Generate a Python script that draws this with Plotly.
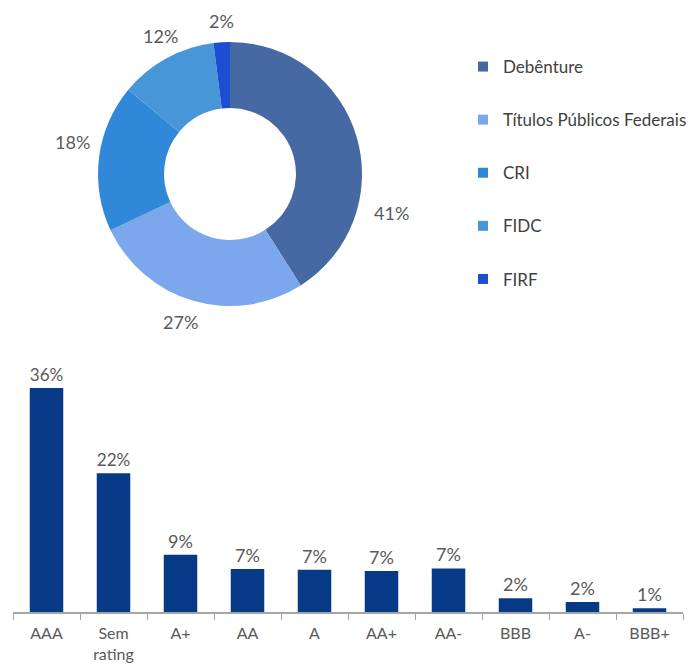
import plotly.graph_objects as go

# Donut data
asset_names = ["Debênture", "Títulos Públicos Federais", "CRI", "FIDC", "FIRF"]
asset_values = [41, 27, 18, 12, 2]
asset_text = ["41%", "27%", "18%", "12%", "2%"]
asset_colors = ["#4769A3", "#7DA7EC", "#3288D8", "#4796D8", "#1E4ED0"]

# Bar data
ratings = ["AAA", "Sem<br>rating", "A+", "AA", "A", "AA+", "AA-", "BBB", "A-", "BBB+"]
rating_values = [36.0, 22.3, 9.2, 6.9, 6.8, 6.6, 7.0, 2.2, 1.6, 0.6]
rating_text = ["36%", "22%", "9%", "7%", "7%", "7%", "7%", "2%", "2%", "1%"]

# layout: pixel positions of the donut percentage labels (as placed in the original)
pie_label_px = [(391, 213), (180, 322), (72, 142), (160, 36), (222, 21)]

FONT = "Lato"
TXT = "#5A5A5A"
W, H = 699, 666

fig = go.Figure()

cx, cy, r = 230, 174, 132
fig.add_trace(go.Pie(
    labels=asset_names, values=asset_values, text=asset_text,
    textinfo="none",
    marker=dict(colors=asset_colors, line=dict(width=0)),
    hole=0.5, sort=False, direction="clockwise", rotation=0,
    domain=dict(x=[(cx - r) / W, (cx + r) / W],
                y=[(H - cy - r) / H, (H - cy + r) / H]),
    showlegend=False, hoverinfo="label+text",
))

for t, (px, py) in zip(asset_text, pie_label_px):
    fig.add_annotation(
        text=t, x=px / W, y=1 - py / H, xref="paper", yref="paper",
        xanchor="center", yanchor="middle", showarrow=False,
        font=dict(family=FONT, size=18, color=TXT),
    )

# legend entries (one group each so spacing can match)
for i, (n, c) in enumerate(zip(asset_names, asset_colors)):
    fig.add_trace(go.Scatter(
        x=[None], y=[None], mode="markers", name=n,
        marker=dict(symbol="square", size=10, color=c),
        legendgroup=f"g{i}", showlegend=True, xaxis="x2", yaxis="y2",
    ))

fig.add_trace(go.Bar(
    x=ratings, y=rating_values, text=rating_text,
    textposition="outside", cliponaxis=False,
    textfont=dict(family=FONT, size=18, color=TXT),
    marker=dict(color="#063A87", line=dict(width=0)),
    showlegend=False, hoverinfo="x+text",
))

fig.update_layout(
    width=W, height=H,
    margin=dict(l=0, r=0, t=0, b=0),
    paper_bgcolor="white", plot_bgcolor="white",
    font=dict(family=FONT, color=TXT, size=16),
    bargap=0.5,
    legend=dict(
        x=463 / W, y=1 - 49 / H, xanchor="left", yanchor="top",
        font=dict(family=FONT, size=17, color="#404040"),
        tracegroupgap=28, itemwidth=30, bgcolor="rgba(0,0,0,0)",
    ),
    xaxis=dict(
        domain=[13 / W, 683 / W], showgrid=False, showline=True,
        linecolor="#A6A6A6", linewidth=1.5, ticks="outside",
        tickson="boundaries", tickcolor="#A6A6A6", ticklen=6,
        ticklabelstandoff=6,
        tickfont=dict(family=FONT, size=16, color=TXT),
        fixedrange=True,
    ),
    yaxis=dict(
        domain=[54 / H, 303 / H], range=[0, 40], visible=False,
        showgrid=False, fixedrange=True,
    ),
    xaxis2=dict(domain=[0, 0.01], visible=False, anchor="y2"),
    yaxis2=dict(domain=[0.99, 1], visible=False, anchor="x2"),
)

fig.write_html("out.html", config={"displayModeBar": False},
               post_script="document.body.style.margin='0';document.body.style.padding='0';")
